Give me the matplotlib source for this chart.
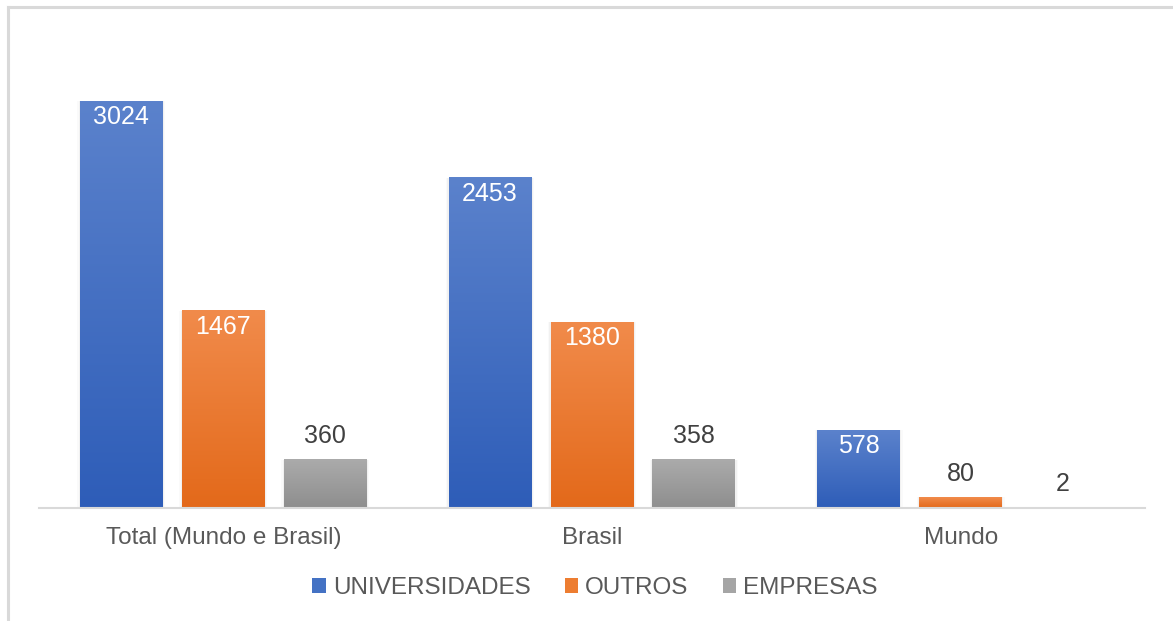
import matplotlib
matplotlib.use("Agg")
import matplotlib.pyplot as plt
import numpy as np
from matplotlib.patches import Patch, Rectangle
from matplotlib.lines import Line2D
from matplotlib.colors import LinearSegmentedColormap

categories = ["Total (Mundo e Brasil)", "Brasil", "Mundo"]
series_names = ["UNIVERSIDADES", "OUTROS", "EMPRESAS"]
universidades = [3024, 2453, 578]
outros = [1467, 1380, 80]
empresas = [360, 358, 2]
values = [universidades, outros, empresas]

top_colors = ["#5B82CC", "#F18B4B", "#ABABAB"]
bottom_colors = ["#2E5DB8", "#E3691A", "#8E8E8E"]
legend_colors = ["#4472C4", "#ED7D31", "#A5A5A5"]
inside_label = [[True, True, True], [True, True, False], [False, False, False]]

plt.rcParams['font.family'] = ['Liberation Sans', 'DejaVu Sans']

fig = plt.figure(figsize=(11.73, 6.21), dpi=100)
ax = fig.add_axes([39/1173, 113/621, (1145-39)/1173, (508-37)/621])

width = 0.225
step = 0.2766
x = np.arange(len(categories))
grad = np.linspace(1, 0, 256).reshape(-1, 1)

for i, (vals, tc, bc) in enumerate(zip(values, top_colors, bottom_colors)):
    cmap = LinearSegmentedColormap.from_list(f"g{i}", [bc, tc])
    for j, v in enumerate(vals):
        xc = x[j] + (i - 1) * step
        x0, x1 = xc - width / 2, xc + width / 2
        # soft shadow
        for k, a in enumerate([0.035, 0.02]):
            d = 0.0035 * (k + 1)
            ax.add_patch(Rectangle((x0 - d, 0), width + 2 * d, v,
                                   facecolor="black", alpha=a, edgecolor="none", zorder=1))
        ax.imshow(grad, extent=[x0, x1, 0, v], aspect="auto", cmap=cmap,
                  vmin=0, vmax=1, zorder=2, interpolation="bilinear")
        if inside_label[i][j]:
            ax.annotate(str(v), (xc, v), xytext=(0, -11.5), textcoords="offset points",
                        ha="center", va="center", fontsize=18, color="white", zorder=3)
        else:
            ax.annotate(str(v), (xc, v), xytext=(0, 17), textcoords="offset points",
                        ha="center", va="center", fontsize=18, color="#404040", zorder=3)

ax.set_xlim(-0.5, 2.5)
ax.set_ylim(0, 3500)
ax.set_xticks(x)
ax.set_xticklabels(categories, fontsize=17.5, color="#595959")
ax.tick_params(axis="x", length=0, pad=14)
ax.set_yticks([])
for s in ["top", "right", "left"]:
    ax.spines[s].set_visible(False)
ax.spines["bottom"].set_color("#D9D9D9")
ax.spines["bottom"].set_linewidth(1.5)
ax.set_facecolor("none")

handles = [Patch(facecolor=c, edgecolor="none") for c in legend_colors]
fig.legend(handles, series_names, loc="center", bbox_to_anchor=(595/1173, 1 - 588/621),
           ncol=3, frameon=False, fontsize=17.5, labelcolor="#595959",
           handlelength=0.55, handleheight=0.55, handletextpad=0.3, columnspacing=1.4)

# outer frame
fig.add_artist(Line2D([8/1173, 1.0], [1 - 7/621, 1 - 7/621], color="#D9D9D9", lw=2.2,
                      transform=fig.transFigure))
fig.add_artist(Line2D([8/1173, 8/1173], [1 - 7/621, 0], color="#D9D9D9", lw=2.2,
                      transform=fig.transFigure))

fig.savefig("out.png", dpi=100)
